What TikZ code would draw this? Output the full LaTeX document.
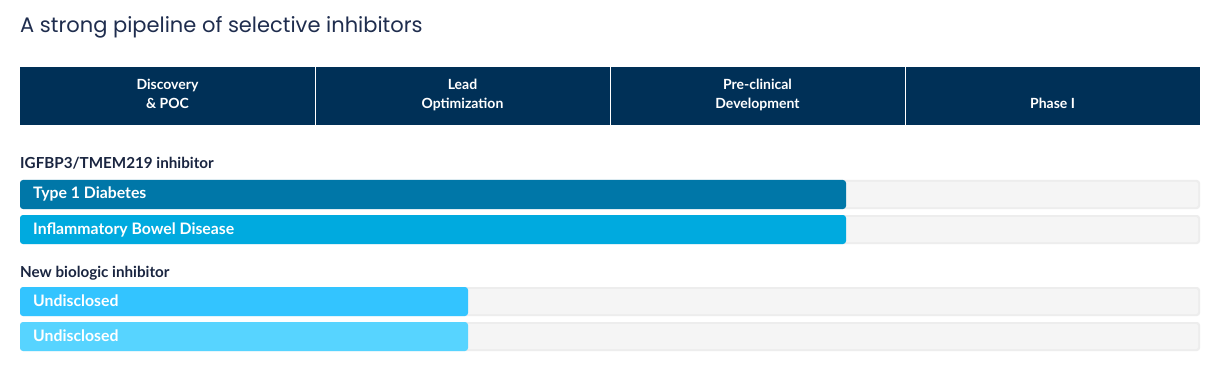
\documentclass[tikz,border=0pt]{standalone}
\usepackage{fontspec}
\setmainfont{Lato}
\newfontfamily\titlefont{Poppins}
\definecolor{navy}{HTML}{003057}
\definecolor{titlecol}{HTML}{1F2D4E}
\definecolor{labelcol}{HTML}{1A2540}
\definecolor{barA}{HTML}{0077A8}
\definecolor{barB}{HTML}{00AADF}
\definecolor{barC}{HTML}{33C4FF}
\definecolor{barD}{HTML}{57D4FF}
\definecolor{greyedge}{HTML}{EDEDED}
\definecolor{greyfill}{HTML}{F5F5F5}
\begin{document}
\begin{tikzpicture}[x=1pt,y=-1pt,
  headtxt/.style={text=white,font=\fontsize{14}{19}\selectfont\bfseries,align=center,anchor=base},
  seclabel/.style={text=labelcol,font=\fontsize{15.2}{18}\selectfont\bfseries,anchor=base west,inner sep=0pt},
  bartxt/.style={text=white,font=\fontsize{15.8}{18}\selectfont\bfseries,anchor=base west,inner sep=0pt},
  track/.style={fill=greyedge,rounded corners=3pt},
  trackin/.style={fill=greyfill,rounded corners=2pt},
  prog/.style={rounded corners=3pt}]
\useasboundingbox[fill=white] (0,0) rectangle (1228,374);
% title
\node[titlecol,anchor=base west,inner sep=0pt,font=\titlefont\fontsize{21}{26}\selectfont] (title) at (20,33) {A strong pipeline of selective inhibitors};
% header
\fill[navy] (20,67) rectangle (1200,125);
\foreach \x in {315,610,905} \draw[white,line width=1pt] (\x,67) -- (\x,125);
\node[headtxt] (h1a) at (167.5,90) {Discovery};
\node[headtxt] (h1b) at (167.5,109) {\& POC};
\node[headtxt] (h2a) at (462.5,90) {Lead};
\node[headtxt] (h2b) at (462.5,109) {Optimization};
\node[headtxt] (h3a) at (757.5,90) {Pre-clinical};
\node[headtxt] (h3b) at (757.5,109) {Development};
\node[headtxt] (h4) at (1052.5,109) {Phase I};
% section 1
\node[seclabel] (s1) at (20,169) {IGFBP3/TMEM219 inhibitor};
\foreach \y in {180,215,287,322}{
  \fill[track] (20,\y) rectangle (1200,\y+29);
  \fill[trackin] (22,\y+2) rectangle (1198,\y+27);
}
\fill[prog,barA] (20,180) rectangle (846,209);
\fill[prog,barB] (20,215) rectangle (846,244);
\node[bartxt] (b1) at (33,199) {Type 1 Diabetes};
\node[bartxt] (b2) at (33,234) {Inflammatory Bowel Disease};
% section 2
\node[seclabel] (s2) at (20,277) {New biologic inhibitor};
\fill[prog,barC] (20,287) rectangle (468,316);
\fill[prog,barD] (20,322) rectangle (468,351);
\node[bartxt] (b3) at (33,306) {Undisclosed};
\node[bartxt] (b4) at (33,341) {Undisclosed};
\end{tikzpicture}
\end{document}
